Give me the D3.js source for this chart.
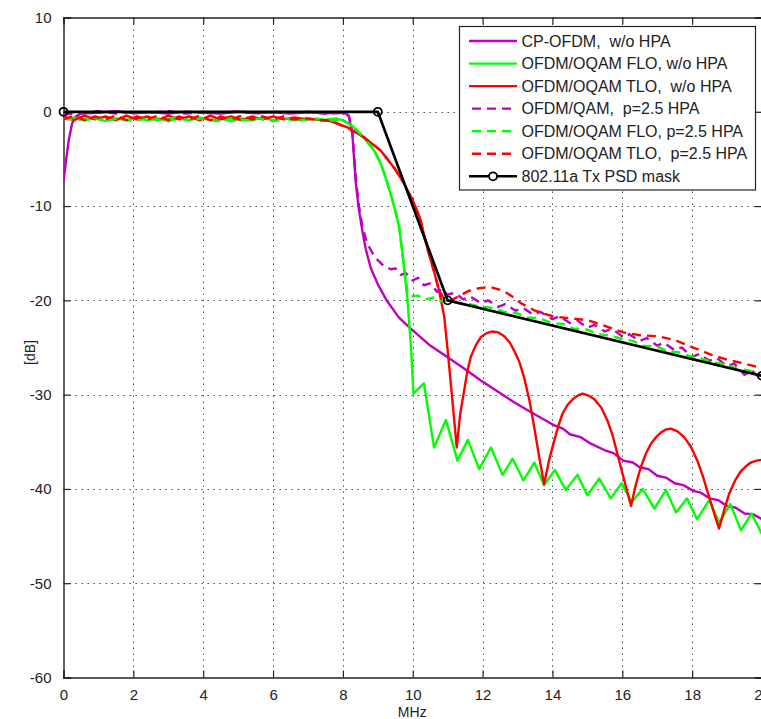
<!DOCTYPE html>
<html>
<head>
<meta charset="utf-8">
<script src="https://cdn.jsdelivr.net/npm/d3@7/dist/d3.min.js"></script>
<style>
  html, body { margin: 0; padding: 0; background: #fff; overflow: hidden; }
  svg text { font-family: "Liberation Sans", Arial, Helvetica, sans-serif; white-space: pre; }
</style>
</head>
<body>
<svg id="chart" width="761" height="719"></svg>
<script>
// Power spectral density curves, [MHz, dB]

const cpOfdmNoHpa = [
  [0,-7.4],[0.08,-5.0],[0.15,-3.0],[0.25,-1.2],[0.35,-0.5],[0.5,-0.2],[1,-0.1],[1.5,0.05],[2,-0.15],
  [2.5,-0.05],[3,-0.2],[3.5,0],[4,-0.1],[4.5,-0.2],[5,0],[5.5,-0.15],[6,-0.05],[6.5,-0.2],[7,-0.05],
  [7.5,-0.15],[7.9,-0.1],[8.1,-0.2],[8.17,-0.5],[8.27,-2.3],[8.37,-7.6],[8.46,-10.4],[8.56,-12.7],
  [8.65,-14.5],[8.8,-16.6],[9.0,-18.3],[9.27,-20.1],[9.6,-21.8],[9.94,-23.0],[10.5,-24.8],[10.99,-26.0],
  [11.5,-27.3],[11.95,-28.5],[12.4,-29.6],[12.9,-30.8],[13.5,-32.1],[14.02,-33.2],[14.3,-33.6],[14.5,-34.2],
  [14.8,-34.5],[15.1,-35.2],[15.5,-35.9],[15.75,-36.2],[16.03,-37.0],[16.3,-37.2],[16.5,-37.7],[16.75,-37.9],
  [17.0,-38.6],[17.25,-38.8],[17.5,-39.4],[17.75,-39.6],[18.03,-40.2],[18.25,-40.4],[18.5,-41.0],[18.75,-41.2],
  [19.0,-41.8],[19.25,-42.0],[19.5,-42.6],[19.75,-42.7],[20,-43.2]
];

const floNoHpa = [
  [0,-0.8],[0.3,-0.6],[0.6,-0.9],[0.9,-0.7],[1.2,-1.0],[1.5,-0.7],[1.8,-0.9],[2.1,-0.6],[2.4,-0.9],
  [2.7,-0.7],[3.0,-1.0],[3.3,-0.7],[3.6,-0.9],[3.9,-0.6],[4.2,-0.9],[4.5,-0.7],[4.8,-1.0],[5.1,-0.7],
  [5.4,-0.9],[5.7,-0.6],[6.0,-0.9],[6.3,-0.7],[6.6,-0.9],[7.0,-0.7],[7.4,-0.9],[7.8,-0.7],[8.03,-0.95],
  [8.3,-1.6],[8.51,-2.4],[8.7,-3.2],[8.89,-4.1],[9.05,-5.2],[9.18,-6.5],[9.3,-7.9],[9.42,-9.4],[9.52,-10.8],
  [9.61,-12.2],[9.72,-15.5],[9.85,-20.0],[9.95,-25.0],[10.02,-29.9],[10.32,-28.8],[10.61,-35.6],[10.95,-32.7],
  [11.28,-37.0],[11.58,-34.8],[11.9,-37.9],[12.24,-35.6],[12.57,-38.5],[12.86,-36.8],[13.17,-39.1],[13.48,-37.2],
  [13.76,-39.6],[14.07,-38.0],[14.38,-40.1],[14.72,-38.5],[15.0,-40.7],[15.34,-38.9],[15.67,-41.0],[15.98,-39.4],
  [16.27,-41.4],[16.58,-40.0],[16.92,-42.1],[17.25,-40.1],[17.54,-42.5],[17.85,-41.0],[18.14,-43.2],[18.49,-41.2],
  [18.78,-43.6],[19.09,-41.6],[19.4,-44.4],[19.7,-42.6],[20,-44.8]
];

const tloNoHpa = [
  [0,-0.5],[0.3,-0.9],[0.6,-0.4],[0.9,-0.8],[1.2,-0.5],[1.5,-0.9],[1.8,-0.4],[2.1,-0.8],[2.4,-0.5],
  [2.7,-0.9],[3.0,-0.4],[3.3,-0.8],[3.6,-0.5],[3.9,-0.9],[4.2,-0.4],[4.5,-0.8],[4.8,-0.5],[5.1,-0.9],
  [5.4,-0.5],[5.7,-0.8],[6.0,-0.5],[6.3,-0.8],[6.6,-0.6],[7.0,-0.8],[7.3,-0.8],[7.65,-1.0],[8.13,-1.65],
  [8.6,-2.7],[9.08,-4.1],[9.46,-5.9],[9.75,-7.6],[10.0,-9.4],[10.2,-11.2],[10.42,-14.5],[10.6,-16.8],
  [10.75,-18.9],[10.9,-21.7],[11.0,-25.3],[11.12,-30.0],[11.26,-35.6],[11.36,-32.0],[11.47,-29.6],
  [11.56,-27.6],[11.66,-26.0],[11.8,-24.8],[11.95,-23.9],[12.1,-23.5],[12.28,-23.3],[12.45,-23.4],
  [12.62,-23.8],[12.78,-24.5],[12.9,-25.3],[13.05,-26.5],[13.19,-28.2],[13.34,-30.6],[13.48,-33.5],
  [13.62,-36.6],[13.76,-39.5],[13.9,-37.0],[14.05,-34.9],[14.17,-33.3],[14.29,-32.0],[14.43,-31.1],
  [14.58,-30.5],[14.72,-30.1],[14.86,-29.9],[15.03,-30.1],[15.2,-30.5],[15.4,-31.4],[15.58,-32.8],
  [15.72,-34.3],[15.86,-36.3],[16.05,-39.0],[16.25,-41.8],[16.39,-39.5],[16.53,-37.7],[16.67,-36.3],
  [16.82,-35.2],[16.97,-34.5],[17.11,-34.0],[17.25,-33.7],[17.39,-33.6],[17.58,-33.9],[17.77,-34.5],
  [17.96,-35.5],[18.15,-37.0],[18.32,-38.8],[18.49,-40.9],[18.64,-42.7],[18.77,-44.2],[18.92,-42.2],
  [19.06,-40.5],[19.23,-39.1],[19.4,-38.1],[19.54,-37.6],[19.68,-37.2],[19.84,-37.0],[20,-36.9]
];

const qamHpa = [
  [0,-0.3],[0.5,-0.1],[1,0.05],[1.5,-0.2],[2,0],[2.5,-0.1],[3,0.05],[3.5,-0.2],[4,0],[4.5,-0.1],
  [5,0.05],[5.5,-0.15],[6,0],[6.5,-0.1],[7,0],[7.5,-0.2],[8,-0.1],[8.17,-0.4],[8.27,-2.3],[8.37,-7.0],
  [8.46,-10.0],[8.56,-12.2],[8.7,-14.0],[8.85,-15.0],[8.99,-15.7],[9.18,-16.4],[9.37,-16.7],[9.5,-16.6],
  [9.66,-17.3],[9.8,-17.1],[10.0,-17.9],[10.15,-17.6],[10.32,-18.4],[10.5,-18.2],[10.7,-19.1],[10.85,-18.8],
  [10.99,-19.4],[11.2,-19.2],[11.45,-19.9],[11.65,-19.6],[11.95,-20.3],[12.15,-20.0],[12.45,-20.7],
  [12.65,-20.4],[12.95,-21.1],[13.15,-20.8],[13.45,-21.5],[13.65,-21.2],[14.0,-22.0],[14.2,-21.7],
  [14.5,-22.4],[14.7,-22.1],[15.0,-22.9],[15.2,-22.6],[15.5,-23.3],[15.7,-23.0],[16.03,-23.9],[16.2,-23.6],
  [16.5,-24.3],[16.7,-24.0],[17.0,-24.8],[17.2,-24.5],[17.5,-25.3],[17.7,-25.0],[18.0,-26.0],[18.2,-25.7],
  [18.5,-26.4],[18.7,-26.1],[19.0,-27.0],[19.2,-26.7],[19.5,-27.9],[19.7,-27.4],[20,-28.5]
];

const floHpa = [
  [0,-0.7],[0.4,-0.9],[0.8,-0.6],[1.2,-0.9],[1.6,-0.7],[2.0,-1.0],[2.4,-0.7],[2.8,-0.9],[3.2,-0.6],
  [3.6,-0.9],[4.0,-0.7],[4.4,-1.0],[4.8,-0.7],[5.2,-0.9],[5.6,-0.7],[6.0,-1.0],[6.4,-0.7],[6.8,-0.9],
  [7.2,-0.7],[7.6,-0.9],[8.03,-0.95],[8.3,-1.6],[8.51,-2.4],[8.7,-3.2],[8.89,-4.1],[9.05,-5.2],[9.18,-6.5],
  [9.3,-7.9],[9.42,-9.4],[9.52,-10.8],[9.61,-12.2],[9.72,-15.5],[9.85,-19.2],[9.94,-19.6],[10.15,-19.5],
  [10.35,-19.9],[10.6,-19.7],[10.8,-20.1],[11.0,-20.0],[11.3,-20.3],[11.6,-20.4],[12.0,-20.7],[12.3,-20.8],
  [12.6,-21.2],[13.0,-21.4],[13.3,-21.8],[13.6,-21.9],[14.0,-22.4],[14.3,-22.5],[14.6,-23.0],[15.0,-23.1],
  [15.3,-23.6],[15.6,-23.7],[16.0,-24.1],[16.3,-24.3],[16.6,-24.8],[17.0,-24.9],[17.3,-25.4],[17.6,-25.5],
  [18.0,-26.0],[18.3,-26.2],[18.6,-26.6],[19.0,-26.8],[19.3,-27.3],[19.6,-27.4],[20,-28.0]
];

const tloHpa = [
  [0,-0.8],[0.3,-0.4],[0.6,-0.9],[0.9,-0.5],[1.2,-0.8],[1.5,-0.4],[1.8,-0.9],[2.1,-0.5],[2.4,-0.8],
  [2.7,-0.4],[3.0,-0.9],[3.3,-0.5],[3.6,-0.8],[3.9,-0.4],[4.2,-0.9],[4.5,-0.5],[4.8,-0.8],[5.1,-0.4],
  [5.4,-0.8],[5.7,-0.5],[6.0,-0.8],[6.3,-0.5],[6.6,-0.8],[7.0,-0.7],[7.3,-0.9],[7.65,-0.95],[8.13,-1.7],
  [8.6,-2.7],[9.08,-4.1],[9.46,-5.9],[9.75,-7.6],[10.0,-9.4],[10.2,-11.2],[10.42,-14.5],[10.6,-16.8],
  [10.75,-18.9],[10.9,-19.9],[11.0,-20.2],[11.3,-19.6],[11.6,-19.0],[11.9,-18.7],[12.23,-18.6],[12.6,-19.0],
  [12.85,-19.6],[13.1,-20.3],[13.5,-21.1],[14.02,-21.7],[14.5,-21.9],[15.0,-22.1],[15.5,-22.7],[16.03,-23.4],
  [16.5,-23.7],[17.0,-23.8],[17.5,-24.2],[18.03,-25.0],[18.5,-25.7],[19.0,-26.3],[19.5,-26.7],[20,-27.2]
];

// 802.11a transmit spectral mask corner points
const psdMask = [[0,0],[9,0],[11,-20],[20,-28]];

const xTicks = [0,2,4,6,8,10,12,14,16,18,20];
const yTicks = [10,0,-10,-20,-30,-40,-50,-60];

const seriesNames = [
  "CP-OFDM,  w/o HPA",
  "OFDM/OQAM FLO, w/o HPA",
  "OFDM/OQAM TLO,  w/o HPA",
  "OFDM/QAM,  p=2.5 HPA",
  "OFDM/OQAM FLO, p=2.5 HPA",
  "OFDM/OQAM TLO,  p=2.5 HPA",
  "802.11a Tx PSD mask"
];

const PURPLE = "#bf00c4", GREEN = "#00ff00", RED = "#ff0000", BLACK = "#000000";

const series = [
  { data: cpOfdmNoHpa, color: PURPLE, dash: null },
  { data: floNoHpa,    color: GREEN,  dash: null },
  { data: tloNoHpa,    color: RED,    dash: null },
  { data: qamHpa,      color: PURPLE, dash: "9,6" },
  { data: floHpa,      color: GREEN,  dash: "9,6" },
  { data: tloHpa,      color: RED,    dash: "9,6" }
];

const svg = d3.select("#chart");
const plotLeft = 63.5, plotRight = 762, plotTop = 17.5, plotBottom = 677.5;

const x = d3.scaleLinear().domain([0, 20]).range([plotLeft, plotRight]);
const y = d3.scaleLinear().domain([-60, 10]).range([plotBottom, plotTop]);

// grid (dotted)
const grid = svg.append("g").attr("stroke", "#333").attr("stroke-width", 1)
  .attr("stroke-dasharray", "1.3,4.7");
grid.selectAll("line.vx").data(xTicks.filter(d => d > 0 && d < 20)).join("line")
  .attr("x1", d => Math.round(x(d)) + 0.5).attr("x2", d => Math.round(x(d)) + 0.5)
  .attr("y1", plotTop).attr("y2", plotBottom);
grid.selectAll("line.hy").data(yTicks.filter(d => d > -60 && d < 10)).join("line")
  .attr("y1", d => Math.round(y(d)) + 0.5).attr("y2", d => Math.round(y(d)) + 0.5)
  .attr("x1", plotLeft).attr("x2", plotRight);

// axes with inward ticks on all four sides
const tickLen = 7;
const fmt = d => String(d);
const axB = svg.append("g").attr("transform", `translate(0,${plotBottom})`)
  .call(d3.axisBottom(x).tickValues(xTicks).tickSize(-tickLen).tickPadding(tickLen + 5).tickFormat(fmt));
const axL = svg.append("g").attr("transform", `translate(${plotLeft},0)`)
  .call(d3.axisLeft(y).tickValues(yTicks).tickSize(-tickLen).tickPadding(tickLen + 5).tickFormat(fmt));
const axT = svg.append("g").attr("transform", `translate(0,${plotTop})`)
  .call(d3.axisTop(x).tickValues(xTicks).tickSize(-tickLen).tickFormat(""));
const axR = svg.append("g").attr("transform", `translate(${plotRight},0)`)
  .call(d3.axisRight(y).tickValues(yTicks).tickSize(-tickLen).tickFormat(""));

[axB, axL, axT, axR].forEach(a => {
  a.select(".domain").attr("stroke", "#222").attr("stroke-width", 1.4);
  a.selectAll(".tick line").attr("stroke", "#222").attr("stroke-width", 1.2);
  a.selectAll(".tick text").attr("fill", "#222").style("font-size", "15px")
    .style("font-family", "'Liberation Sans', Arial, sans-serif");
});

// axis titles
svg.append("text").attr("x", (plotLeft + plotRight) / 2 - 0.5).attr("y", 717)
  .attr("text-anchor", "middle").attr("fill", "#222").style("font-size", "14px").text("MHz");
svg.append("text").attr("transform", `translate(35,${(plotTop + plotBottom) / 2 + 5}) rotate(-90)`)
  .attr("text-anchor", "middle").attr("fill", "#222").style("font-size", "14px").text("[dB]");

// curves
svg.append("clipPath").attr("id", "plotclip").append("rect")
  .attr("x", plotLeft).attr("y", plotTop).attr("width", plotRight - plotLeft).attr("height", plotBottom - plotTop);
const plot = svg.append("g").attr("clip-path", "url(#plotclip)");
const line = d3.line().x(d => x(d[0])).y(d => y(d[1])).curve(d3.curveLinear);

series.forEach(s => {
  plot.append("path").datum(s.data)
    .attr("fill", "none").attr("stroke", s.color).attr("stroke-width", 2.4)
    .attr("stroke-linejoin", "round")
    .attr("stroke-dasharray", s.dash)
    .attr("d", line);
});

plot.append("path").datum(psdMask)
  .attr("fill", "none").attr("stroke", BLACK).attr("stroke-width", 2.7).attr("d", line);
svg.append("g").selectAll("circle").data(psdMask).join("circle")
  .attr("cx", d => x(d[0])).attr("cy", d => y(d[1])).attr("r", 4)
  .attr("fill", "none").attr("stroke", BLACK).attr("stroke-width", 1.8);

// legend
const lg = svg.append("g");
const lgX = 459.5, lgY = 26.5, lgW = 296, lgH = 163.5, rowH = 22.55, row0 = 41;
lg.append("rect").attr("x", lgX).attr("y", lgY).attr("width", lgW).attr("height", lgH)
  .attr("fill", "#fff").attr("stroke", "#222").attr("stroke-width", 1.2);

const legendItems = series.concat([{ color: BLACK, dash: null, mask: true }]);
legendItems.forEach((s, i) => {
  const yy = row0 + i * rowH;
  lg.append("line").attr("x1", s.dash ? 472 : 469).attr("x2", 517).attr("y1", yy).attr("y2", yy)
    .attr("stroke", s.color).attr("stroke-width", s.mask ? 2.5 : 2.3)
    .attr("stroke-dasharray", s.dash);
  if (s.mask) {
    lg.append("circle").attr("cx", 493).attr("cy", yy).attr("r", 4)
      .attr("fill", "#fff").attr("stroke", BLACK).attr("stroke-width", 1.8);
  }
  lg.append("text").attr("x", 521.5).attr("y", yy + 5.5).attr("fill", "#222")
    .style("font-size", "16px").text(seriesNames[i]);
});
</script>
</body>
</html>
